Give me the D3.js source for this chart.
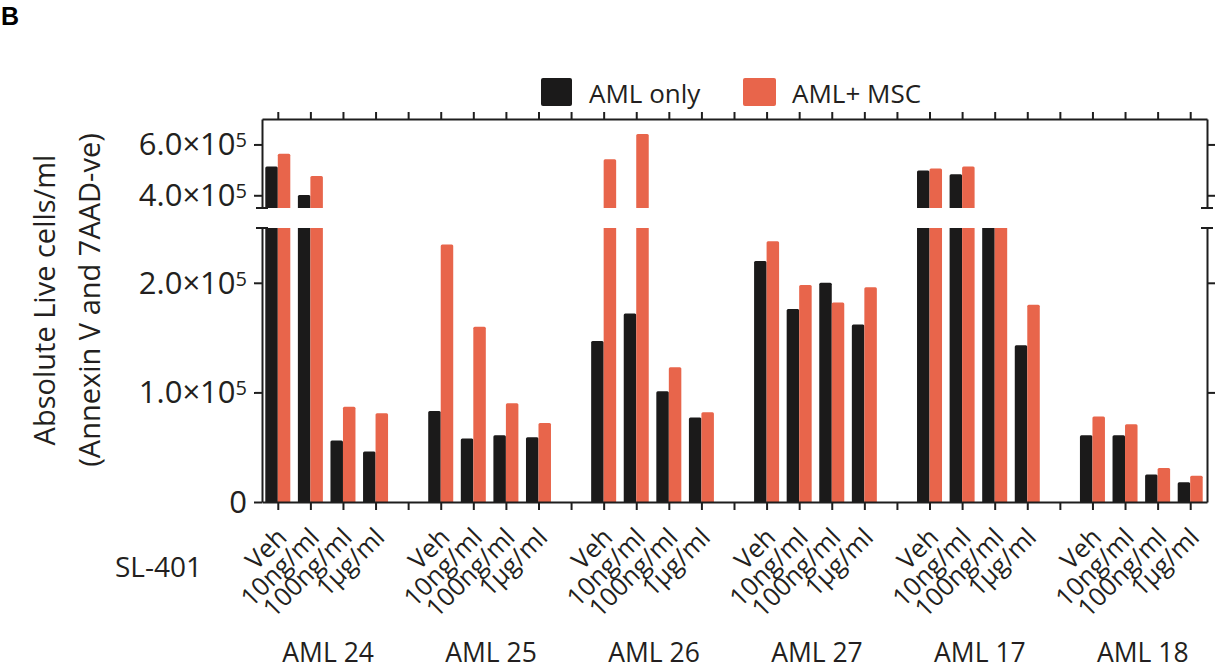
<!DOCTYPE html>
<html><head><meta charset="utf-8">
<script src="https://cdn.jsdelivr.net/npm/d3@7"></script>
<style>
body{margin:0;background:#fff}
text{font-family:"Open Sans",sans-serif;fill:#231f20}
</style>
</head><body><svg id="c" width="1221" height="670"></svg>
<script>
// ---- data ----
const groups = ["AML 24","AML 25","AML 26","AML 27","AML 17","AML 18"];
const conditions = ["Veh","10ng/ml","100ng/ml","1µg/ml"];
const seriesNames = ["AML only","AML+ MSC"];
const amlOnly = [5.13e5,4.01e5,0.56e5,0.46e5, 0.83e5,0.58e5,0.61e5,0.59e5, 1.47e5,1.72e5,1.01e5,0.77e5,
                 2.20e5,1.76e5,2.00e5,1.62e5, 4.97e5,4.83e5,3.0e5,1.43e5, 0.61e5,0.61e5,0.25e5,0.18e5];
const amlMsc  = [5.63e5,4.76e5,0.87e5,0.81e5, 2.35e5,1.60e5,0.90e5,0.72e5, 5.42e5,6.41e5,1.23e5,0.82e5,
                 2.38e5,1.98e5,1.82e5,1.96e5, 5.05e5,5.13e5,3.1e5,1.80e5, 0.78e5,0.71e5,0.31e5,0.24e5];
const lowerTicks = [0,1e5,2e5];
const upperTicks = [4e5,6e5];
const lowerDomain = [0,2.5e5];
const upperDomain = [3.5e5,7e5];
const colors = ["#1b1a1a","#e8654b"];

// ---- layout ----
const L=262, R=1207, T=119, UB=208, LT=228, B=502;
const svg = d3.select("#c");
svg.append("rect").attr("width",1221).attr("height",670).attr("fill","#fff");

const slots=[];
groups.forEach((g,gi)=>{
  conditions.forEach(c=>slots.push(g+"|"+c));
  if(gi<groups.length-1) slots.push("gap"+gi);
});
const x = d3.scaleBand().domain(slots).range([L,R]).padding(0);
const yLow = d3.scaleLinear().domain(lowerDomain).range([B,LT]);
const yHigh = d3.scaleLinear().domain(upperDomain).range([UB,T]);

const rows=[];
groups.forEach((g,gi)=>conditions.forEach((c,ci)=>{
  const i=gi*conditions.length+ci;
  rows.push({key:g+"|"+c, vals:[amlOnly[i],amlMsc[i]]});
}));

const inner = d3.scaleBand().domain(seriesNames).range([-13,12]).padding(0);

function roundTop(x0,y0,w,h,r){
  return `M${x0},${y0+h}V${y0+r}Q${x0},${y0} ${x0+r},${y0}H${x0+w-r}Q${x0+w},${y0} ${x0+w},${y0+r}V${y0+h}Z`;
}
// bars
const gb = svg.append("g");
rows.forEach(r=>{
  const cx = x(r.key)+x.bandwidth()/2;
  r.vals.forEach((v,si)=>{
    const bx = cx+inner(seriesNames[si]);
    const w = inner.bandwidth();
    const vl = Math.min(v, lowerDomain[1]);
    gb.append("path").attr("fill",colors[si])
      .attr("d", roundTop(bx, yLow(vl), w, yLow(0)-yLow(vl), v>lowerDomain[1]?0:1.5));
    if(v>upperDomain[0]){
      const vh=Math.min(v,upperDomain[1]);
      gb.append("path").attr("fill",colors[si])
        .attr("d", roundTop(bx, yHigh(vh), w, yHigh(upperDomain[0])-yHigh(vh), 1.5));
    }
  });
});

// axes
const axStyle = g=>{g.selectAll("path,line").attr("stroke","#1e1e1e").attr("stroke-width",2);g.selectAll("text").remove();};
svg.append("g").attr("transform",`translate(${L},0)`).call(d3.axisLeft(yLow).tickValues(lowerTicks).tickSize(8).tickSizeOuter(0)).call(axStyle);
svg.append("g").attr("transform",`translate(${L},0)`).call(d3.axisLeft(yHigh).tickValues(upperTicks).tickSize(8).tickSizeOuter(0)).call(axStyle);
svg.append("g").attr("transform",`translate(${R},0)`).call(d3.axisRight(yLow).tickValues(lowerTicks.filter(d=>d>0)).tickSize(8).tickSizeOuter(0)).call(axStyle);
svg.append("g").attr("transform",`translate(${R},0)`).call(d3.axisRight(yHigh).tickValues(upperTicks).tickSize(8).tickSizeOuter(0)).call(axStyle);
svg.append("g").attr("transform",`translate(0,${B})`).call(d3.axisBottom(x).tickSize(8).tickSizeOuter(0)).call(axStyle);
svg.append("g").attr("transform",`translate(0,${T})`).call(d3.axisTop(x).tickSize(7).tickSizeOuter(0)).call(axStyle);

// break caps
[L,R].forEach(ax=>{
  [UB,LT].forEach(yy=>{
    svg.append("line").attr("x1",ax-6).attr("x2",ax+6).attr("y1",yy).attr("y2",yy)
      .attr("stroke","#1e1e1e").attr("stroke-width",2);
  });
});

// y tick labels
function yLabel(v, yy){
  const t = svg.append("text").attr("x",247).attr("y",yy+11).attr("text-anchor","end").style("font-size","31px");
  if(v===0){ t.text("0"); return; }
  t.append("tspan").text((v/1e5).toFixed(1)+"×10");
  t.append("tspan").attr("dy",-8).style("font-size","20px").text("5");
}
lowerTicks.forEach(v=>yLabel(v,yLow(v)));
upperTicks.forEach(v=>yLabel(v,yHigh(v)));

// x tick labels
rows.forEach(r=>{
  const cx = x(r.key)+x.bandwidth()/2;
  svg.append("text").attr("text-anchor","end")
    .attr("transform",`translate(${cx+10},${539}) rotate(-45)`)
    .style("font-size","25.5px").text(r.key.split("|")[1]);
});
// group labels
groups.forEach(g=>{
  const x0 = x(g+"|"+conditions[0]), x1 = x(g+"|"+conditions[conditions.length-1])+x.bandwidth();
  svg.append("text").attr("x",(x0+x1)/2+1).attr("y",662).attr("text-anchor","middle")
    .style("font-size","26.5px").text(g);
});
svg.append("text").attr("x",115).attr("y",577).style("font-size","28px").text("SL-401");

// y title
svg.append("text").attr("transform","translate(55,300) rotate(-90)").attr("text-anchor","middle")
  .style("font-size","29px").text("Absolute Live cells/ml");
svg.append("text").attr("transform","translate(100,300) rotate(-90)").attr("text-anchor","middle")
  .style("font-size","29px").text("(Annexin V and 7AAD-ve)");

// legend
const leg = [{x:541,w:31,tx:589},{x:743,w:33,tx:792}];
seriesNames.forEach((s,i)=>{
  svg.append("rect").attr("x",leg[i].x).attr("y",78).attr("width",leg[i].w).attr("height",28)
    .attr("rx",2).attr("fill",colors[i]);
  svg.append("text").attr("x",leg[i].tx).attr("y",103).style("font-size","26px").text(s);
});

// panel label
svg.append("text").attr("x",1).attr("y",25).style("font-family","Liberation Sans, Arial, sans-serif")
  .style("font-weight","bold").style("font-size","25px").style("fill","#000").text("B");
</script>
</body></html>
